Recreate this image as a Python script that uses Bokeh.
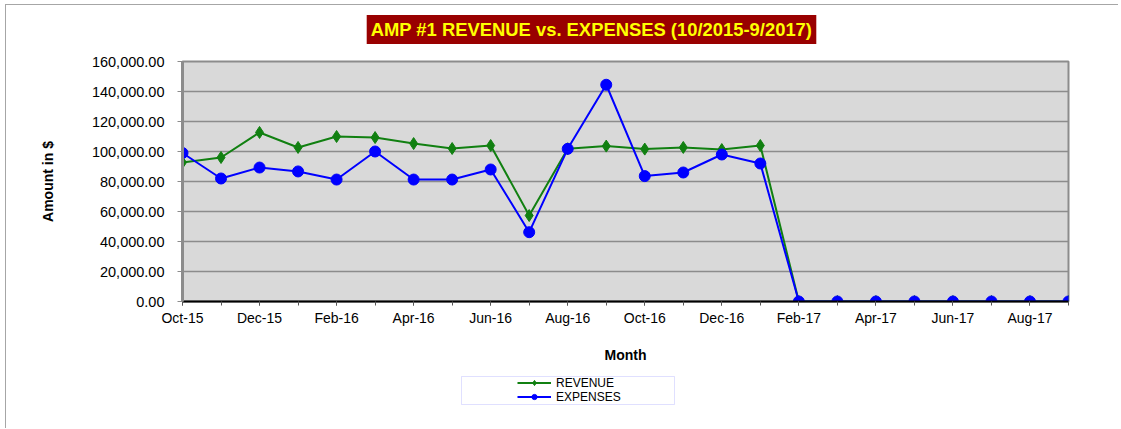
from bokeh.plotting import figure
from bokeh.layouts import column
from bokeh.models import (ColumnDataSource, FixedTicker, Legend, LegendItem, Label,
                          BoxAnnotation, NumeralTickFormatter, Range1d)
from bokeh.embed import file_html
from bokeh.resources import INLINE

months = ["Oct-15", "Nov-15", "Dec-15", "Jan-16", "Feb-16", "Mar-16", "Apr-16", "May-16",
          "Jun-16", "Jul-16", "Aug-16", "Sep-16", "Oct-16", "Nov-16", "Dec-16", "Jan-17",
          "Feb-17", "Mar-17", "Apr-17", "May-17", "Jun-17", "Jul-17", "Aug-17", "Sep-17"]
revenue = [92700, 96000, 112700, 102700, 110000, 109300, 105300, 102000,
           104000, 57300, 101800, 103600, 101600, 102700, 101300, 104000,
           0, 0, 0, 0, 0, 0, 0, 0]
expenses = [99000, 82000, 89300, 86700, 81300, 100000, 81300, 81300,
            88000, 46200, 101800, 144500, 83600, 86000, 98000, 92000,
            0, 0, 0, 0, 0, 0, 0, 0]
y_ticks = [0, 20000, 40000, 60000, 80000, 100000, 120000, 140000, 160000]
title_text = "AMP #1 REVENUE vs. EXPENSES (10/2015-9/2017)"
series_names = ["REVENUE", "EXPENSES"]

idx = list(range(len(months)))
src = ColumnDataSource(dict(x=idx, m=months, rev=revenue, exp=expenses))

FONT = "Liberation Sans"
GREEN = "#118011"
BLUE = "#0000ff"
OX, OY = 6, 5          # page position of the content (after margin + border)
W = 1112
H0, H1, H2 = 45, 320, 58
TOP1 = OY + H0
TOP2 = TOP1 + H1
BOT = TOP2 + H2
FL, FR, FT, FB = 182, 1068, 61, 301   # page pixels of the plot frame


def strip(top, bottom):
    # helper strip whose frame is aligned with the main frame; data units = page pixels
    f = figure(width=W, height=bottom - top, output_backend="svg", toolbar_location=None,
               x_range=Range1d(FL, FR), y_range=Range1d(bottom, top),
               x_axis_location=None, y_axis_location=None,
               min_border=0, outline_line_color=None)
    f.xgrid.visible = False
    f.ygrid.visible = False
    f.background_fill_color = "white"
    f.border_fill_color = "white"
    return f


# ---- title strip
p0 = strip(OY, TOP1)
p0.add_layout(Label(x=591, y=29, text=title_text, text_align="center",
                    text_baseline="middle", text_font=FONT, text_font_size="18.4px",
                    text_font_style="bold", text_color="#ffff00",
                    background_fill_color="#990000", padding=4))

# ---- main chart
p = figure(width=W, height=H1, output_backend="svg", toolbar_location=None,
           x_range=Range1d(0, len(months) - 1), y_range=Range1d(0, 160000),
           min_border_left=FL - OX, min_border_right=OX + W - FR,
           min_border_top=FT - TOP1, min_border_bottom=TOP2 - FB)
p.background_fill_color = "#d9d9d9"
p.border_fill_color = "white"
p.outline_line_color = "#8c8c8c"
p.outline_line_width = 2

p.xgrid.visible = False
p.ygrid.grid_line_color = "#8c8c8c"
p.ygrid.grid_line_width = 1.5
p.ygrid.ticker = FixedTicker(ticks=y_ticks)

p.yaxis.ticker = FixedTicker(ticks=y_ticks)
p.yaxis.formatter = NumeralTickFormatter(format="0,0.00")
p.yaxis.axis_line_color = "#8c8c8c"
p.yaxis.axis_line_width = 3
p.yaxis.major_tick_line_color = "#8c8c8c"
p.yaxis.major_tick_in = 0
p.yaxis.major_tick_out = 5
p.yaxis.minor_tick_line_color = None
p.yaxis.major_label_text_font = FONT
p.yaxis.major_label_text_font_size = "14.5px"
p.yaxis.major_label_text_color = "#000000"
p.yaxis.major_label_standoff = 13
p.yaxis.axis_label = "Amount in $"
p.yaxis.axis_label_text_font = FONT
p.yaxis.axis_label_text_font_size = "14px"
p.yaxis.axis_label_text_font_style = "bold"
p.yaxis.axis_label_text_color = "#000000"
p.yaxis.axis_label_standoff = 33

p.xaxis.ticker = FixedTicker(ticks=idx[::2], minor_ticks=idx)
p.xaxis.major_label_overrides = {i: months[i] for i in idx}
p.xaxis.axis_line_color = "black"
p.xaxis.axis_line_width = 2
p.xaxis.major_tick_line_color = "#555555"
p.xaxis.major_tick_in = 0
p.xaxis.major_tick_out = 4
p.xaxis.minor_tick_line_color = "#555555"
p.xaxis.minor_tick_in = 0
p.xaxis.minor_tick_out = 4
p.xaxis.major_label_text_font = FONT
p.xaxis.major_label_text_font_size = "14px"
p.xaxis.major_label_text_color = "#000000"
p.xaxis.major_label_standoff = 4
p.xaxis.axis_label = "Month"
p.xaxis.axis_label_text_font = FONT
p.xaxis.axis_label_text_font_size = "14px"
p.xaxis.axis_label_text_font_style = "bold"
p.xaxis.axis_label_text_color = "#000000"
p.xaxis.axis_label_standoff = 18

p.line("x", "rev", source=src, line_color=GREEN, line_width=2)
p.scatter("x", "rev", source=src, marker="diamond", size=12, color=GREEN)
p.line("x", "exp", source=src, line_color=BLUE, line_width=2)
p.scatter("x", "exp", source=src, marker="circle", size=11, color=BLUE)

# ---- legend strip (series renderers here fall outside its view; only the key shows)
p2 = strip(TOP2, BOT)
p2.add_layout(BoxAnnotation(left=461, right=674, top=376, bottom=404,
                            fill_color="white", fill_alpha=0,
                            line_color="#9999ff", line_width=1))
lr = p2.line("x", "rev", source=src, line_color=GREEN, line_width=2)
sr = p2.scatter("x", "rev", source=src, marker="diamond", size=8, color=GREEN)
le = p2.line("x", "exp", source=src, line_color=BLUE, line_width=2)
se = p2.scatter("x", "exp", source=src, marker="circle", size=8, color=BLUE)
legend = Legend(items=[LegendItem(label=series_names[0], renderers=[lr, sr]),
                       LegendItem(label=series_names[1], renderers=[le, se])],
                location=(517 - FL, BOT - 403.5), orientation="vertical")
legend.label_text_font = FONT
legend.label_text_font_size = "12px"
legend.label_text_color = "#000000"
legend.label_height = 13
legend.glyph_height = 13
legend.glyph_width = 34
legend.spacing = 0
legend.padding = 0
legend.margin = 0
legend.label_standoff = 5
legend.border_line_color = None
legend.background_fill_alpha = 0
p2.add_layout(legend, "center")

layout = column(p0, p, p2, spacing=0,
                styles={"border-left": "1px solid #a6a6a6", "border-top": "1px solid #a6a6a6",
                        "margin-left": f"{OX - 1}px", "margin-top": f"{OY - 1}px"})

open("out.html", "w").write(file_html(layout, INLINE))
